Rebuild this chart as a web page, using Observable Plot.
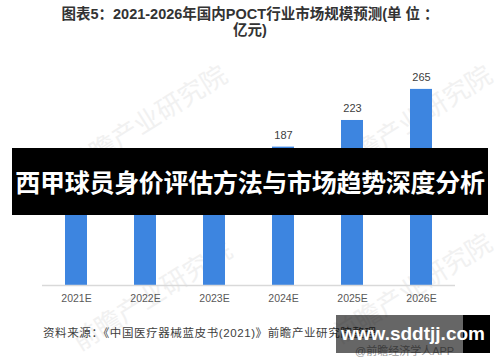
<!DOCTYPE html>
<html><head><meta charset="utf-8">
<script src="https://cdn.jsdelivr.net/npm/d3@7"></script>
<script src="https://cdn.jsdelivr.net/npm/@observablehq/plot@0.6"></script>
<style>
body{margin:0;background:#fff;font-family:"Liberation Sans","Noto Sans CJK SC",sans-serif;}
#wrap{position:relative;width:500px;height:362px;overflow:hidden;background:#fff;}
#title{position:absolute;top:6px;left:0;width:500px;text-align:center;font-weight:bold;font-size:14.5px;line-height:16px;color:#333;}
#chart{position:absolute;top:40px;left:0;}
#source{position:absolute;top:324px;left:43px;font-size:11.5px;color:#404040;letter-spacing:0.6px;white-space:nowrap;}
.wm{position:absolute;color:#f1f1f1;font-size:26px;transform:rotate(-32deg);white-space:nowrap;font-family:"Noto Sans CJK SC";}
#banner{position:absolute;left:12px;top:148px;width:476px;height:67px;background:#000;}
#bannerGray{position:absolute;left:36px;top:148px;width:427px;height:67px;background:rgba(0,0,0,0.6);}
#bannerText{position:absolute;left:0;top:148px;width:500px;height:67px;line-height:67px;text-align:center;color:#fff;font-weight:bold;font-size:25px;font-family:"Noto Sans CJK SC";white-space:nowrap;letter-spacing:-0.3px;}
#app{position:absolute;left:355px;top:342px;font-size:11px;color:#999;}
#siteBlack{position:absolute;left:463px;top:315px;width:27px;height:38px;background:#000;}
#siteGray{position:absolute;left:336px;top:315px;width:127px;height:38px;background:rgba(0,0,0,0.6);}
#siteText{position:absolute;left:336px;top:315px;width:154px;height:38px;line-height:38px;text-align:center;color:#fff;font-weight:bold;font-size:19px;font-family:"Liberation Sans";white-space:nowrap;}
</style></head>
<body>
<div id="wrap">
  <div class="wm" style="left:55px;top:100px;">前瞻产业研究院</div>
  <div class="wm" style="left:320px;top:100px;">前瞻产业研究院</div>
  <div class="wm" style="left:60px;top:275px;">前瞻产业研究院</div>
  <div class="wm" style="left:320px;top:268px;">前瞻产业研究院</div>
  <div id="title">图表5：2021-2026年国内POCT行业市场规模预测(单 位 ：<br>亿元)</div>
  <div id="chart"></div>
  <div id="source">资料来源：《中国医疗器械蓝皮书(2021)》前瞻产业研究院整理</div>
  <div id="banner"></div>
  <div id="bannerGray"></div>
  <div id="bannerText">西甲球员身价评估方法与市场趋势深度分析</div>
  <div id="app">@前瞻经济学人APP</div>
  <div id="siteGray"></div>
  <div id="siteBlack"></div>
  <div id="siteText">www.sddtjj.com</div>
</div>
<script>
const years = ["2021E","2022E","2023E","2024E","2025E","2026E"];
const values = [112,132,157,187,223,265];
const data = years.map((y,i)=>({year:y, value:values[i]}));
const chart = Plot.plot({
  width:500, height:270,
  marginTop:23, marginBottom:25, marginLeft:42, marginRight:45,
  style:{background:"transparent", fontFamily:"Liberation Sans, sans-serif"},
  x:{domain:years, paddingInner:0.68, paddingOuter:0.33, label:null, tickSize:0, tickPadding:9},
  y:{domain:[0,300], axis:null},
  marks:[
    Plot.barY(data,{x:"year", y:"value", fill:"#3d85e0"}),
    Plot.ruleY([0],{stroke:"#d9d9d9", strokeWidth:1.5}),
    Plot.text(data,{x:"year", y:"value", text:d=>String(d.value), dy:-12, fill:"#404040", fontSize:11}),
    Plot.axisX({tickSize:0, tickPadding:9, fontSize:10.5, color:"#595959", label:null})
  ]
});
document.getElementById("chart").appendChild(chart);
</script>
</body></html>
